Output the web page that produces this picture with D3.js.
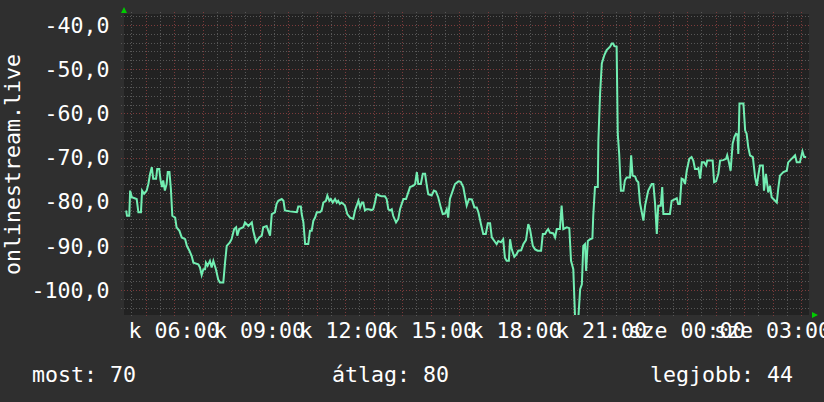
<!DOCTYPE html>
<html>
<head>
<meta charset="utf-8">
<script src="https://cdn.jsdelivr.net/npm/d3@7"></script>
<style>
    body { margin: 0; background-color: #2f2f2f; }
    text { font-family: "DejaVu Sans Mono", monospace; font-size: 21.6px; fill: #ffffff; }
</style>
</head>
<body>
<div id="svgZone"></div>
<script>
// The data: hour of day (24+ means the next day) and the value at that time
const hours = [
    4.32, 4.35, 4.43, 4.46, 4.52, 4.69, 4.75, 4.84, 4.88, 4.95, 5.04, 5.10, 5.16, 5.22, 5.27, 5.37,
    5.41, 5.48, 5.53, 5.58, 5.62, 5.68, 5.74, 5.78, 5.84, 5.89, 5.94, 6.04, 6.09, 6.19, 6.27, 6.39,
    6.45, 6.54, 6.62, 6.68, 6.85, 6.91, 6.97, 7.03, 7.09, 7.12, 7.18, 7.26, 7.32, 7.38, 7.47, 7.55,
    7.61, 7.73, 7.79, 7.85, 7.96, 8.02, 8.11, 8.18, 8.22, 8.29, 8.43, 8.49, 8.61, 8.73, 8.78, 8.88,
    8.99, 9.08, 9.13, 9.25, 9.31, 9.37, 9.43, 9.54, 9.60, 9.66, 9.78, 9.84, 9.89, 10.07, 10.31, 10.36,
    10.45, 10.48, 10.54, 10.60, 10.71, 10.77, 10.83, 10.89, 10.95, 11.01, 11.12, 11.18, 11.24, 11.33, 11.38, 11.45,
    11.50, 11.57, 11.65, 11.71, 11.76, 11.82, 11.88, 11.94, 12.00, 12.08, 12.18, 12.29, 12.35, 12.41, 12.47, 12.53,
    12.59, 12.64, 12.70, 12.76, 12.82, 12.94, 12.99, 13.05, 13.11, 13.20, 13.29, 13.40, 13.46, 13.52, 13.58, 13.64,
    13.69, 13.79, 13.87, 13.93, 13.99, 14.05, 14.14, 14.22, 14.28, 14.40, 14.46, 14.52, 14.57, 14.66, 14.73, 14.81,
    14.87, 14.92, 15.04, 15.12, 15.19, 15.27, 15.36, 15.43, 15.51, 15.57, 15.62, 15.68, 15.78, 15.86, 15.98, 16.06,
    16.15, 16.27, 16.35, 16.45, 16.54, 16.62, 16.68, 16.77, 16.85, 16.94, 17.01, 17.09, 17.15, 17.24, 17.32, 17.38,
    17.47, 17.55, 17.61, 17.67, 17.75, 17.79, 17.85, 17.94, 18.02, 18.08, 18.18, 18.26, 18.35, 18.43, 18.49, 18.59,
    18.67, 18.76, 18.88, 18.94, 19.02, 19.08, 19.13, 19.19, 19.31, 19.37, 19.43, 19.54, 19.60, 19.66, 19.78, 19.87,
    19.93, 20.01, 20.07, 20.19, 20.25, 20.31, 20.36, 20.42, 20.46, 20.52, 20.60, 20.68, 20.71, 20.77, 20.87, 20.89,
    20.95, 21.01, 21.10, 21.18, 21.30, 21.36, 21.41, 21.45, 21.53, 21.57, 21.62, 21.68, 21.77, 21.82, 21.88, 22.00,
    22.04, 22.09, 22.18, 22.23, 22.29, 22.35, 22.47, 22.53, 22.59, 22.64, 22.76, 22.82, 22.88, 22.94, 22.99, 23.08,
    23.13, 23.17, 23.29, 23.40, 23.46, 23.58, 23.64, 23.69, 23.75, 23.81, 23.87, 23.93, 23.99, 24.08, 24.16, 24.22,
    24.28, 24.36, 24.40, 24.46, 24.52, 24.60, 24.67, 24.71, 24.81, 24.90, 24.95, 25.02, 25.10, 25.16, 25.27, 25.37,
    25.41, 25.47, 25.53, 25.60, 25.66, 25.72, 25.77, 25.80, 25.84, 25.98, 26.04, 26.09, 26.15, 26.21, 26.31, 26.39,
    26.45, 26.50, 26.56, 26.66, 26.70, 26.77, 26.85, 26.91, 26.97, 27.09, 27.15, 27.20, 27.26, 27.38, 27.50, 27.55,
    27.67, 27.79, 27.85, 27.96, 28.05, 28.11, 28.18
];

const values = [
    -82.0, -83.2, -83.2, -77.5, -79.0, -79.4, -82.4, -82.4, -77.5, -78.2, -77.5, -76.0, -73.7, -72.2, -74.8, -74.8,
    -72.6, -72.6, -75.2, -76.7, -75.2, -77.5, -76.0, -73.3, -73.3, -77.1, -83.2, -83.6, -85.8, -86.6, -88.1, -88.5,
    -90.0, -91.1, -92.3, -93.8, -94.2, -94.9, -96.6, -95.3, -95.3, -93.8, -94.5, -93.4, -94.9, -93.4, -95.3, -97.6,
    -98.3, -98.3, -93.8, -90.0, -89.2, -88.5, -86.2, -85.8, -87.7, -86.2, -85.8, -84.7, -85.5, -84.7, -86.6, -89.2,
    -88.1, -87.7, -85.8, -85.5, -86.6, -87.7, -82.8, -82.4, -80.5, -79.8, -79.4, -79.8, -82.0, -82.2, -82.4, -81.1,
    -81.1, -82.8, -84.7, -89.6, -89.6, -86.6, -86.6, -84.3, -83.6, -82.4, -82.4, -82.0, -80.2, -79.8, -78.6, -79.8,
    -79.4, -80.2, -79.4, -80.2, -79.8, -80.5, -80.2, -80.5, -80.9, -82.8, -83.6, -83.9, -82.0, -80.9, -79.8, -81.3,
    -80.2, -80.2, -82.0, -81.7, -81.7, -81.9, -81.7, -80.2, -78.3, -78.6, -78.8, -78.8, -79.4, -81.7, -82.0, -81.7,
    -83.2, -84.7, -83.9, -81.7, -80.5, -79.4, -79.4, -77.9, -76.7, -76.4, -76.0, -73.3, -76.0, -76.0, -73.7, -73.7,
    -76.4, -78.3, -78.6, -77.5, -77.7, -79.0, -81.3, -82.8, -82.7, -81.7, -83.6, -79.4, -77.5, -76.0, -75.4, -75.5,
    -76.7, -80.9, -79.4, -79.5, -81.3, -81.3, -82.4, -85.1, -87.3, -87.3, -84.9, -84.9, -88.1, -88.9, -89.6, -88.9,
    -89.2, -88.5, -92.7, -93.4, -93.4, -88.5, -90.8, -92.5, -91.9, -91.1, -91.0, -89.6, -88.7, -85.1, -86.2, -90.0,
    -90.8, -91.1, -91.1, -87.3, -87.3, -86.6, -86.2, -87.0, -87.2, -88.1, -86.2, -86.2, -80.9, -86.2, -85.8, -86.0,
    -93.4, -95.3, -106.0, -106.0, -99.8, -98.7, -90.0, -89.6, -95.7, -88.9, -88.5, -88.3, -83.2, -76.7, -76.7, -66.1,
    -55.5, -48.7, -46.8, -45.7, -44.9, -44.2, -44.2, -44.8, -44.9, -64.6, -69.2, -77.5, -77.5, -75.2, -74.5, -74.5,
    -69.5, -74.1, -74.3, -75.2, -75.6, -80.3, -84.3, -80.9, -79.0, -77.5, -76.0, -76.0, -80.5, -87.3, -80.9, -80.9,
    -76.7, -82.8, -82.8, -82.8, -79.8, -79.4, -79.2, -80.5, -80.5, -74.8, -75.0, -76.0, -73.0, -70.3, -69.9, -70.7,
    -72.6, -72.6, -72.4, -74.8, -71.1, -71.1, -71.8, -70.7, -70.7, -70.7, -75.6, -75.4, -73.7, -70.7, -70.6, -70.3,
    -69.5, -71.1, -73.0, -66.9, -65.4, -64.6, -64.8, -69.2, -57.8, -57.8, -63.9, -64.6, -67.7, -69.5, -69.9, -74.5,
    -76.4, -74.1, -71.8, -71.8, -77.5, -73.7, -77.9, -76.4, -79.0, -79.8, -80.2, -77.1, -74.1, -73.3, -73.0, -71.1,
    -70.3, -69.5, -71.1, -71.1, -68.6, -69.9, -69.9
];

// Axis ticks and labels
const yTicks = [-40, -50, -60, -70, -80, -90, -100];
const xTickHours = [6, 9, 12, 15, 18, 21, 24, 27];
const xTickLabels = ["k 06:00", "k 09:00", "k 12:00", "k 15:00", "k 18:00", "k 21:00", "sze 00:00", "sze 03:00"];
const yTitle = "onlinestream.live";
const legendItems = ["most: 70", "átlag: 80", "legjobb: 44"];

// Sizes
const width = 824;
const height = 402;
const plotLeft = 124;
const plotRight = 809;
const plotTop = 14;
const plotBottom = 315;

const svgContainer = d3.select("#svgZone")
    .append("svg")
    .attr("width", width)
    .attr("height", height)
    .style("display", "block")
    .style("background-color", "#2f2f2f");

// Scales
const xScale = d3.scaleLinear()
    .domain([4.245, 28.28])
    .range([plotLeft, plotRight]);

const yScale = d3.scaleLinear()
    .domain([-100, -40])
    .range([290, 25]);

const yDomainLow = yScale.invert(plotBottom);
const yDomainHigh = yScale.invert(plotTop);

// Plot background
svgContainer.append("rect")
    .attr("x", plotLeft)
    .attr("y", plotTop)
    .attr("width", plotRight - plotLeft)
    .attr("height", plotBottom - plotTop)
    .attr("fill", "#222222");

// Grid: minor every 2 units / 30 min, major every 10 units / 1 hour
const gridGroup = svgContainer.append("g")
    .attr("shape-rendering", "crispEdges")
    .attr("stroke-width", 1)
    .attr("stroke-dasharray", "1,2");

const minorY = d3.range(Math.ceil(yDomainLow / 2) * 2, yDomainHigh, 2).filter(v => v % 10 !== 0);
const majorY = d3.range(Math.ceil(yDomainLow / 10) * 10, yDomainHigh, 10);
const minorX = d3.range(Math.ceil(xScale.domain()[0] * 2) / 2, xScale.domain()[1], 0.5).filter(h => h % 1 !== 0);
const majorX = d3.range(Math.ceil(xScale.domain()[0]), xScale.domain()[1], 1);

gridGroup.selectAll(".minor-y")
    .data(minorY)
    .enter()
    .append("line")
    .attr("x1", plotLeft - 3)
    .attr("x2", plotRight + 2)
    .attr("y1", d => Math.round(yScale(d)) + 0.5)
    .attr("y2", d => Math.round(yScale(d)) + 0.5)
    .attr("stroke", "#575757");

gridGroup.selectAll(".minor-x")
    .data(minorX)
    .enter()
    .append("line")
    .attr("x1", d => Math.round(xScale(d)) + 0.5)
    .attr("x2", d => Math.round(xScale(d)) + 0.5)
    .attr("y1", plotTop - 2)
    .attr("y2", plotBottom + 2)
    .attr("stroke", "#575757");

gridGroup.selectAll(".major-y")
    .data(majorY)
    .enter()
    .append("line")
    .attr("x1", plotLeft - 3)
    .attr("x2", plotRight + 2)
    .attr("y1", d => Math.round(yScale(d)) + 0.5)
    .attr("y2", d => Math.round(yScale(d)) + 0.5)
    .attr("stroke", "#7c3b3b");

gridGroup.selectAll(".major-x")
    .data(majorX)
    .enter()
    .append("line")
    .attr("x1", d => Math.round(xScale(d)) + 0.5)
    .attr("x2", d => Math.round(xScale(d)) + 0.5)
    .attr("y1", plotTop - 2)
    .attr("y2", plotBottom + 3)
    .attr("stroke", "#7c3b3b");

// The line, clipped to the plot area
svgContainer.append("clipPath")
    .attr("id", "plotClip")
    .append("rect")
    .attr("x", plotLeft)
    .attr("y", plotTop)
    .attr("width", plotRight - plotLeft)
    .attr("height", plotBottom - plotTop);

const lineGen = d3.line()
    .x((d, i) => xScale(hours[i]))
    .y(d => yScale(d));

svgContainer.append("path")
    .attr("clip-path", "url(#plotClip)")
    .attr("d", lineGen(values))
    .attr("fill", "none")
    .attr("stroke", "#72eeb2")
    .attr("stroke-width", 2)
    .attr("stroke-linejoin", "miter");

// Green arrows at the end of the axes
svgContainer.append("polygon")
    .attr("points", [[plotLeft - 3, 13], [plotLeft + 3, 13], [plotLeft, 7]].join(" "))
    .attr("fill", "#00cc00");

svgContainer.append("polygon")
    .attr("points", [[plotRight + 3, plotBottom - 3], [plotRight + 3, plotBottom + 3], [plotRight + 9, plotBottom]].join(" "))
    .attr("fill", "#00cc00");

// Y axis labels, with a decimal comma
const huFormat = d3.formatLocale({
    decimal: ",",
    thousands: " ",
    grouping: [3],
    currency: ["", ""],
    minus: "-"
}).format(".1f");

svgContainer.selectAll(".ylabel")
    .data(yTicks)
    .enter()
    .append("text")
    .attr("x", 109.5)
    .attr("y", d => yScale(d) + 7.8)
    .attr("text-anchor", "end")
    .text(d => huFormat(d));

// X axis labels
svgContainer.selectAll(".xlabel")
    .data(xTickHours)
    .enter()
    .append("text")
    .attr("x", d => xScale(d))
    .attr("y", 338)
    .attr("text-anchor", "middle")
    .text((d, i) => xTickLabels[i]);

// Y axis title
svgContainer.append("text")
    .attr("transform", "translate(20," + ((plotTop + plotBottom) / 2) + ") rotate(-90)")
    .attr("text-anchor", "middle")
    .text(yTitle);

// Legend line at the bottom
const legendX = [32, 332, 650];
svgContainer.selectAll(".legend")
    .data(legendItems)
    .enter()
    .append("text")
    .attr("x", (d, i) => legendX[i])
    .attr("y", 382)
    .text(d => d);
</script>
</body>
</html>
